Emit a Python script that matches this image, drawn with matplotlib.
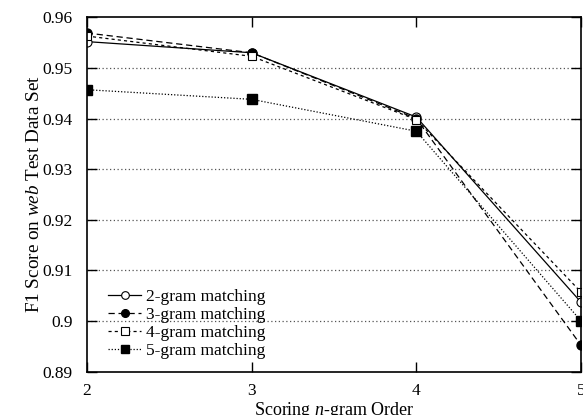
import matplotlib
matplotlib.use("Agg")
import matplotlib.pyplot as plt

plt.rcParams['font.family'] = ['Liberation Serif', 'DejaVu Serif']
plt.rcParams['mathtext.fontset'] = 'custom'
plt.rcParams['mathtext.rm'] = 'Liberation Serif'
plt.rcParams['mathtext.it'] = 'Liberation Serif:italic'

orders = [2, 3, 4, 5]
gram2 = [0.9552, 0.9530, 0.9403, 0.9037]
gram3 = [0.9569, 0.9530, 0.9400, 0.8952]
gram4 = [0.9563, 0.9523, 0.9398, 0.9057]
gram5 = [0.9457, 0.9438, 0.9375, 0.9000]
labels = ['2-gram matching', '3-gram matching', '4-gram matching', '5-gram matching']
yticks = [0.89, 0.9, 0.91, 0.92, 0.93, 0.94, 0.95, 0.96]
ytick_labels = ['0.89', '0.9', '0.91', '0.92', '0.93', '0.94', '0.95', '0.96']

fig = plt.figure(figsize=(5.83, 4.15), dpi=100)
ax = fig.add_axes([0.1488, 0.1043, 0.848, 0.854])

for y in yticks[1:-1]:
    ax.axhline(y, color='#555555', lw=0.9, ls=(0, (1, 2)), zorder=0)

ax.plot(orders, gram2, color='black', lw=0.9, ls='-', marker='o', ms=6.5,
        mfc='white', mec='black', mew=0.8, label=labels[0])
ax.plot(orders, gram3, color='black', lw=0.9, ls=(0, (5, 3)), marker='o', ms=6.5,
        mfc='black', mec='black', label=labels[1])
ax.plot(orders, gram4, color='black', lw=0.9, ls=(0, (2.5, 2.5)), marker='s', ms=6,
        mfc='white', mec='black', mew=0.8, label=labels[2])
ax.plot(orders, gram5, color='black', lw=0.9, ls=(0, (1, 1.5)), marker='s', ms=6.5,
        mfc='black', mec='black', label=labels[3])

ax.set_xlim(2, 5)
ax.set_ylim(0.89, 0.96)
ax.set_xticks(orders)
ax.set_yticks(yticks)
ax.set_yticklabels(ytick_labels)
ax.tick_params(axis='y', pad=10)
ax.tick_params(direction='in', length=7, width=1, top=True, right=True,
               labelsize=12.5)
ax.tick_params(axis='x', pad=8)
for s in ax.spines.values():
    s.set_linewidth(1.2)

ax.set_xlabel('Scoring $\\it{n}$-gram Order', fontsize=13, labelpad=0.5)
ax.set_ylabel('F1 Score on $\\it{web}$ Test Data Set', fontsize=13.8, labelpad=-0.5)

ax.legend(loc='lower left', bbox_to_anchor=(0.0435, 0.036), frameon=False,
          fontsize=12.5, handlelength=1.9, labelspacing=0.1, handletextpad=0.3,
          borderaxespad=0.0, borderpad=0.0, markerscale=0.85)

fig.savefig('out.png', dpi=100)
